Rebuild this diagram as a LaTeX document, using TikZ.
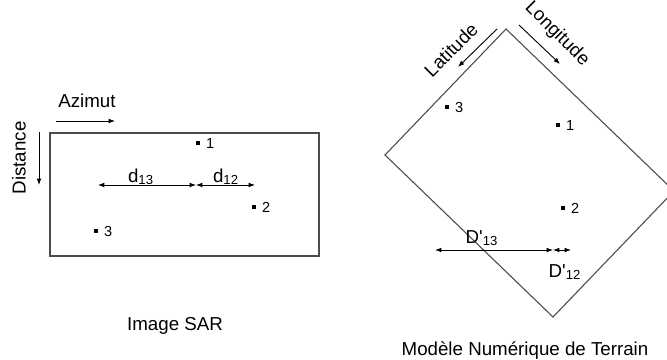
\documentclass[tikz,border=0pt]{standalone}
\usepackage{fontspec}
\setmainfont{Liberation Sans}
\usetikzlibrary{arrows.meta}

\begin{document}
\begin{tikzpicture}[
    x=0.55pt, y=-0.55pt,
    frame/.style={draw=black!70, line width=0.6pt},
    dir/.style={-{Latex[length=3.5pt,width=2.6pt]}, line width=0.5pt},
    dist/.style={{Latex[length=3.5pt,width=2.6pt]}-{Latex[length=3.5pt,width=2.6pt]}, line width=0.5pt},
    pt/.style={fill=black, inner sep=0pt, minimum size=2.2pt},
    num/.style={font=\fontsize{8}{9}\selectfont, inner sep=0pt, label distance=3pt},
    txt/.style={font=\fontsize{10.3}{12}\selectfont, inner sep=0pt}
    ]

    \clip (0,0) rectangle (667,360);

    % image SAR
    \draw[frame] (50,133) rectangle (319,256);

    \node[pt, label={[num]right:1}] (s1) at (198,143) {};
    \node[pt, label={[num]right:2}] (s2) at (254,207) {};
    \node[pt, label={[num]right:3}] (s3) at (96,231) {};

    \coordinate (az1) at (56,121);
    \coordinate (az2) at (115,121);
    \coordinate (di1) at (39,132);
    \coordinate (di2) at (39,185);
    \draw[dir] (az1) -- (az2);
    \draw[dir] (di1) -- (di2);
    \node[txt, anchor=base] (azimut) at (87,108) {Azimut};
    \node[txt, rotate=90] (distance) at (19,158) {Distance};

    \coordinate (a13) at (98,185);
    \coordinate (a1) at (196,185);
    \coordinate (a12) at (255,185);
    \draw[dist] (a13) -- (a1);
    \draw[dist] (a1) -- (a12);
    \node[txt, anchor=base] (d13) at (141,182) {d\textsubscript{13}};
    \node[txt, anchor=base] (d12) at (226,182) {d\textsubscript{12}};

    \node[txt, anchor=base] (sar) at (175,330) {Image SAR};

    % MNT
    \coordinate (top) at (506,29);
    \coordinate (left) at (385,155);
    \coordinate (bottom) at (553,317);
    \coordinate (right) at (674,191);
    \draw[frame] (top) -- (left) -- (bottom) -- (right) -- cycle;

    \node[pt, label={[num]right:1}] (m1) at (558,125) {};
    \node[pt, label={[num]right:2}] (m2) at (563,208) {};
    \node[pt, label={[num]right:3}] (m3) at (447,107) {};

    \coordinate (la1) at (497,29);
    \coordinate (la2) at (458,67);
    \coordinate (lo1) at (519,25);
    \coordinate (lo2) at (560,64);
    \draw[dir] (la1) -- (la2);
    \draw[dir] (lo1) -- (lo2);
    \node[txt, rotate=45] (latitude) at (451,50) {Latitude};
    \node[txt, rotate=-45] (longitude) at (557,34) {Longitude};

    \coordinate (b13) at (435,250);
    \coordinate (b1) at (553,250);
    \coordinate (b12) at (571,250);
    \draw[dist] (b13) -- (b1);
    \draw[dist] (b1) -- (b12);
    \node[txt, anchor=base] (D13) at (482,243) {D\textquotesingle\textsubscript{13}};
    \node[txt, anchor=base] (D12) at (565,277) {D\textquotesingle\textsubscript{12}};

    \node[txt, anchor=base] (mnt) at (525,355) {Modèle Numérique de Terrain};

\end{tikzpicture}
\end{document}
